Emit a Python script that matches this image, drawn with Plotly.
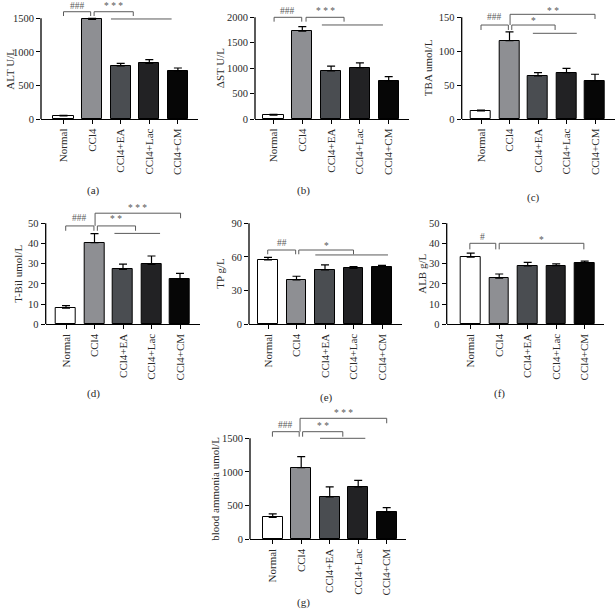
import plotly.graph_objects as go

W, H = 616, 615

groups = ["Normal", "CCl4", "CCl4+EA", "CCl4+Lac", "CCl4+CM"]
bar_colors = ["#ffffff", "#8e8f93", "#4a4d51", "#222224", "#060606"]

alt_mean = [45, 1485, 790, 830, 715]
alt_err = [10, 15, 40, 55, 45]
ast_mean = [75, 1730, 945, 1010, 747]
ast_err = [15, 85, 95, 95, 85]
tba_mean = [12, 115.5, 63.5, 68.3, 56.5]
tba_err = [1, 13, 5, 6.5, 9.5]
tbil_mean = [8, 40.4, 27.2, 29.7, 22.4]
tbil_err = [1.2, 4.5, 2.6, 4.1, 2.8]
tp_mean = [57.3, 39.5, 48.4, 49.9, 51.3]
tp_err = [2.4, 3.3, 4.5, 1.5, 1.2]
alb_mean = [33.2, 22.8, 28.9, 29.0, 30.5]
alb_err = [2.0, 2.1, 1.8, 0.9, 0.8]
nh3_mean = [327, 1064, 630, 780, 401]
nh3_err = [50, 163, 150, 95, 70]

alt_ticks = [0, 500, 1000, 1500]
ast_ticks = [0, 500, 1000, 1500, 2000]
tba_ticks = [0, 50, 100, 150]
tbil_ticks = [0, 10, 20, 30, 40, 50]
tp_ticks = [0, 30, 60, 90]
alb_ticks = [0, 10, 20, 30, 40, 50]
nh3_ticks = [0, 500, 1000, 1500]

# significance marks: (x0, x1, y, left_drop_to, right_drop_to, text, text_y)
alt_sig = [(0, 0.95, 1598, 1534, 1534, "###", 1688),
           (1.07, 2.44, 1598, 1534, 1534, "* * *", 1688),
           (1.66, 3.78, 1490, None, None, "", None)]
ast_sig = [(0.02, 0.98, 2000, 1914, 1914, "###", 2124),
           (1.13, 2.45, 2000, 1914, 1914, "* * *", 2124),
           (1.68, 3.8, 1849, None, None, "", None)]
tba_sig = [(0, 0.96, 138.6, 131.3, 131.3, "###", 150),
           (1.08, 2.6, 138.6, 131.3, 131.3, "*", 145),
           (1.02, 4.0, 154.4, 138.6, 147.5, "* *", 159.5),
           (1.82, 3.36, 126.4, None, None, "", None)]
tbil_sig = [(-0.01, 0.98, 48.7, 46.3, 46.3, "###", 52.6),
            (1.1, 2.44, 48.7, 46.3, 46.3, "* *", 52.0),
            (1.02, 4.02, 55.0, 48.7, 52.5, "* * *", 57.6),
            (1.7, 3.3, 45.0, None, None, "", None)]
tp_sig = [(-0.01, 0.97, 66.2, 62.4, 62.4, "##", 72.0),
          (1.08, 3.0, 66.2, 62.4, 62.4, "*", 70.0),
          (1.66, 4.21, 61.8, None, None, "", None)]
alb_sig = [(-0.03, 0.88, 40.1, 37.1, 37.1, "#", 43.0),
           (1.0, 3.97, 40.1, 37.1, 37.1, "*", 41.8)]
nh3_sig = [(-0.01, 0.93, 1598, 1524, 1524, "###", 1698),
           (1.05, 2.46, 1598, 1524, 1524, "* *", 1680),
           (0.96, 4.0, 1797, 1598, 1723, "* * *", 1871),
           (1.66, 3.25, 1500, None, None, "", None)]

panels = [
    dict(mean=alt_mean, err=alt_err, ticks=alt_ticks, title="ALT U/L", sig=alt_sig, tag="(a)",
         xl=41, xr=198, x0=63.5, dx=28.6, y0=119, ym=18.3, top=5, tx=10, lx=93, ly=190),
    dict(mean=ast_mean, err=ast_err, ticks=ast_ticks, title="\u0394ST U/L", sig=ast_sig, tag="(b)",
         xl=255, xr=409, x0=273.5, dx=28.8, y0=119, ym=17.3, top=5, tx=220, lx=303, ly=190),
    dict(mean=tba_mean, err=tba_err, ticks=tba_ticks, title="TBA umol/L", sig=tba_sig, tag="(c)",
         xl=461.7, xr=615, x0=481, dx=28.5, y0=119, ym=17.3, top=5, tx=428, lx=533, ly=197),
    dict(mean=tbil_mean, err=tbil_err, ticks=tbil_ticks, title="T-Bil umol/L", sig=tbil_sig, tag="(d)",
         xl=45.7, xr=200, x0=66, dx=28.5, y0=324.3, ym=223.3, top=205, tx=18, lx=93, ly=393),
    dict(mean=tp_mean, err=tp_err, ticks=tp_ticks, title="TP g/L", sig=tp_sig, tag="(e)",
         xl=249, xr=402.3, x0=268, dx=28.5, y0=324.3, ym=223.3, top=205, tx=220, lx=326, ly=397),
    dict(mean=alb_mean, err=alb_err, ticks=alb_ticks, title="ALB g/L", sig=alb_sig, tag="(f)",
         xl=446.7, xr=604, x0=470.7, dx=28.5, y0=324.3, ym=223.3, top=205, tx=422, lx=499, ly=393),
    dict(mean=nh3_mean, err=nh3_err, ticks=nh3_ticks, title="blood ammonia umol/L", sig=nh3_sig, tag="(g)",
         xl=250, xr=406, x0=272.7, dx=28.5, y0=539.3, ym=438.3, top=408, tx=215, lx=303, ly=602),
]

FONT = "Liberation Serif, Times New Roman, serif"
TXT = "#2a2a2a"
SIG = "#5a5a5a"

fig = go.Figure()
shapes = []
annotations = []
xs = list(range(len(groups)))

for i, p in enumerate(panels, start=1):
    xa = "x" if i == 1 else f"x{i}"
    ya = "y" if i == 1 else f"y{i}"
    xkey = "xaxis" if i == 1 else f"xaxis{i}"
    ykey = "yaxis" if i == 1 else f"yaxis{i}"
    ymax = p["ticks"][-1]
    fig.add_trace(go.Bar(
        x=xs, y=p["mean"], width=0.7,
        marker=dict(color=bar_colors, line=dict(color="black", width=1)),
        error_y=dict(type="data", array=p["err"], arrayminus=[0] * 5, symmetric=False,
                     color="black", thickness=1.2, width=4),
        xaxis=xa, yaxis=ya, showlegend=False, hoverinfo="skip"))
    rng_x = [(p["xl"] - p["x0"]) / p["dx"], (p["xr"] - p["x0"]) / p["dx"]]
    rng_y = [0, ymax * (p["y0"] - p["top"]) / (p["y0"] - p["ym"])]
    fig.layout[xkey] = dict(
        domain=[p["xl"] / W, p["xr"] / W], range=rng_x, anchor=ya,
        tickvals=xs, ticktext=groups, tickangle=-90, ticks="outside", ticklen=4,
        tickwidth=1.2, tickcolor="black", showline=True, linecolor="black", linewidth=1.3,
        showgrid=False, zeroline=False, tickfont=dict(family=FONT, size=11, color=TXT),
        fixedrange=True, automargin=False)
    fig.layout[ykey] = dict(
        domain=[1 - p["y0"] / H, 1 - p["top"] / H], range=rng_y, anchor=xa,
        tickvals=p["ticks"], ticks="outside", ticklen=4, tickwidth=1.2, tickcolor="black",
        showline=False, showgrid=False, zeroline=False,
        tickfont=dict(family=FONT, size=10.5, color=TXT), fixedrange=True, automargin=False)
    # y axis line only up to the last tick
    shapes.append(dict(type="line", xref=f"{xa} domain", yref=ya, x0=0, x1=0, y0=0, y1=ymax,
                       line=dict(color="black", width=1.3)))
    # axis title
    annotations.append(dict(text=p["title"], xref="paper", yref="paper",
                            x=p["tx"] / W, y=1 - ((p["y0"] + p["ym"]) / 2) / H,
                            xanchor="center", yanchor="middle",
                            textangle=-90, showarrow=False,
                            font=dict(family=FONT, size=11, color=TXT)))
    # panel tag
    annotations.append(dict(text=p["tag"], xref="paper", yref="paper",
                            x=p["lx"] / W, y=1 - p["ly"] / H, showarrow=False,
                            xanchor="center", yanchor="middle",
                            font=dict(family=FONT, size=11, color=TXT)))
    for (a, b, yv, dl, dr, txt, ty) in p["sig"]:
        ln = dict(color=SIG, width=1)
        shapes.append(dict(type="line", xref=xa, yref=ya, x0=a, x1=b, y0=yv, y1=yv, line=ln))
        if dl is not None:
            shapes.append(dict(type="line", xref=xa, yref=ya, x0=a, x1=a, y0=yv, y1=dl, line=ln))
        if dr is not None:
            shapes.append(dict(type="line", xref=xa, yref=ya, x0=b, x1=b, y0=yv, y1=dr, line=ln))
        if txt:
            annotations.append(dict(text=txt, xref=xa, yref=ya, x=(a + b) / 2, y=ty,
                                    xanchor="center", yanchor="middle", showarrow=False,
                                    font=dict(family=FONT, size=9.5, color=SIG)))

fig.update_layout(width=W, height=H, margin=dict(l=0, r=0, t=0, b=0, autoexpand=False),
                  paper_bgcolor="white", plot_bgcolor="white",
                  shapes=shapes, annotations=annotations, bargap=0)

fig.write_html("out.html", config={"displayModeBar": False},
               post_script="document.body.style.margin='0';document.body.style.overflow='hidden';")
